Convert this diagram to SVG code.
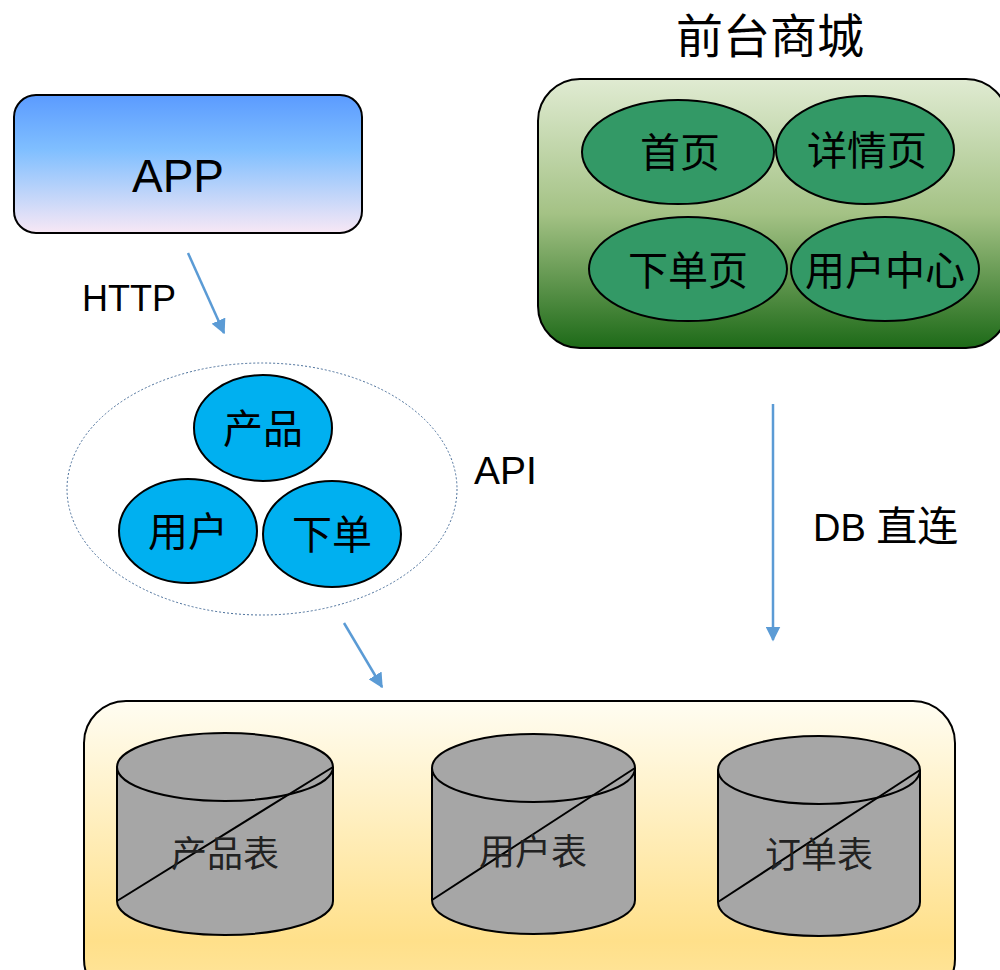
<svg xmlns="http://www.w3.org/2000/svg" width="1000" height="970" viewBox="0 0 1000 970">
<style>
.lat{font-family:"Liberation Sans",Arial,sans-serif;fill:#000}
.cjk{font-family:"Noto Sans CJK SC","Liberation Sans",sans-serif;fill:#000}
.blue{fill:#00b0f0;stroke:#000;stroke-width:2}
.green{fill:#339966;stroke:#000;stroke-width:2}
.cyl{fill:#a6a6a6;stroke:#000;stroke-width:2}
.conn{stroke:#5b9bd5;stroke-width:2.5;fill:none}
</style>
<defs>
<linearGradient id="gApp" x1="0" y1="0" x2="0" y2="1">
<stop offset="0" stop-color="#5b9bff"/>
<stop offset="0.4" stop-color="#80bfff"/>
<stop offset="1" stop-color="#f8e8f5"/>
</linearGradient>
<linearGradient id="gGreen" x1="0" y1="0" x2="0" y2="1">
<stop offset="0" stop-color="#e0ebd2"/>
<stop offset="0.5" stop-color="#a4c285"/>
<stop offset="1" stop-color="#1d6a18"/>
</linearGradient>
<linearGradient id="gYellow" x1="0" y1="0" x2="0" y2="1">
<stop offset="0" stop-color="#fffdf2"/>
<stop offset="0.8" stop-color="#ffe08a"/>
<stop offset="1" stop-color="#ffe6a0"/>
</linearGradient>
<marker id="arr" viewBox="0 0 10 10" refX="9" refY="5" markerWidth="6" markerHeight="6" markerUnits="strokeWidth" orient="auto">
<path d="M0,0 L10,5 L0,10 z" fill="#5b9bd5"/>
</marker>
</defs>

<g id="app">
<rect x="14" y="95" width="348" height="138" rx="22" fill="url(#gApp)" stroke="#000" stroke-width="2"/>
<text class="lat" x="178" y="192" font-size="46" text-anchor="middle">APP</text>
</g>

<g id="mall">
<text class="cjk" x="770" y="53" font-size="47" text-anchor="middle">前台商城</text>
<rect x="538" y="79" width="470" height="269" rx="42" fill="url(#gGreen)" stroke="#000" stroke-width="2"/>
</g>
<g id="home">
<ellipse class="green" cx="678" cy="152" rx="96" ry="52"/>
<text class="cjk" x="680" y="167" font-size="40" text-anchor="middle">首页</text>
</g>
<g id="detail">
<ellipse class="green" cx="865" cy="150" rx="89" ry="54"/>
<text class="cjk" x="867" y="165" font-size="40" text-anchor="middle">详情页</text>
</g>
<g id="order-page">
<ellipse class="green" cx="688" cy="269" rx="99" ry="52"/>
<text class="cjk" x="688" y="285" font-size="40" text-anchor="middle">下单页</text>
</g>
<g id="user-center">
<ellipse class="green" cx="885" cy="269" rx="94" ry="52"/>
<text class="cjk" x="885" y="285" font-size="40" text-anchor="middle">用户中心</text>
</g>

<g id="api">
<ellipse cx="262" cy="489" rx="195" ry="126" fill="none" stroke="#4a6f9a" stroke-width="1" stroke-dasharray="2,2"/>
<text class="lat" x="474" y="484" font-size="39">API</text>
</g>
<g id="api-product">
<ellipse class="blue" cx="263" cy="428" rx="69" ry="53"/>
<text class="cjk" x="263" y="443" font-size="40" text-anchor="middle">产品</text>
</g>
<g id="api-user">
<ellipse class="blue" cx="188" cy="531" rx="69" ry="52"/>
<text class="cjk" x="188" y="546" font-size="40" text-anchor="middle">用户</text>
</g>
<g id="api-order">
<ellipse class="blue" cx="332" cy="534" rx="69" ry="53"/>
<text class="cjk" x="332" y="549" font-size="40" text-anchor="middle">下单</text>
</g>

<g id="db">
<rect x="84" y="701" width="871" height="300" rx="42" fill="url(#gYellow)" stroke="#000" stroke-width="2"/>
</g>
<g id="t-product">
<path class="cyl" d="M117,767 A108,34 0 0 1 333,767 L333,901 A108,34 0 0 1 117,901 Z"/>
<path d="M117,767 A108,34 0 0 0 333,767" fill="none" stroke="#000" stroke-width="2"/>
<line x1="117" y1="901" x2="333" y2="767" stroke="#000" stroke-width="2"/>
<text class="cjk" x="225" y="867" font-size="36" text-anchor="middle" style="fill:#222">产品表</text>
</g>
<g id="t-user">
<path class="cyl" d="M432,768 A101.5,34 0 0 1 635,768 L635,900 A101.5,34 0 0 1 432,900 Z"/>
<path d="M432,768 A101.5,34 0 0 0 635,768" fill="none" stroke="#000" stroke-width="2"/>
<line x1="432" y1="900" x2="635" y2="768" stroke="#000" stroke-width="2"/>
<text class="cjk" x="533" y="865" font-size="36" text-anchor="middle" style="fill:#222">用户表</text>
</g>
<g id="t-order">
<path class="cyl" d="M718,770 A101,34 0 0 1 920,770 L920,902 A101,34 0 0 1 718,902 Z"/>
<path d="M718,770 A101,34 0 0 0 920,770" fill="none" stroke="#000" stroke-width="2"/>
<line x1="718" y1="902" x2="920" y2="770" stroke="#000" stroke-width="2"/>
<text class="cjk" x="819" y="868" font-size="36" text-anchor="middle" style="fill:#222">订单表</text>
</g>

<g id="connectors">
<line class="conn" x1="188" y1="253" x2="224" y2="333" marker-end="url(#arr)"/>
<text class="lat" x="82" y="311" font-size="36">HTTP</text>
<line class="conn" x1="344" y1="623" x2="382" y2="687" marker-end="url(#arr)"/>
<line class="conn" x1="773" y1="404" x2="773" y2="640" marker-end="url(#arr)"/>
<text x="813" y="541" font-size="38"><tspan class="lat">DB </tspan><tspan class="cjk" font-size="41">直连</tspan></text>
</g>
</svg>
